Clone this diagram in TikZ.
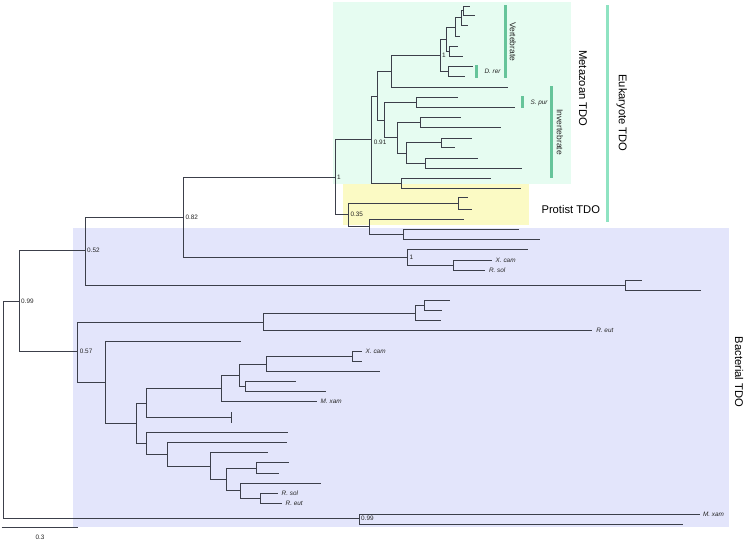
\documentclass[tikz,border=0pt]{standalone}
\usepackage{fontspec}
\setmainfont{Liberation Sans}
\definecolor{treeline}{HTML}{3C3F4A}
\definecolor{metafill}{HTML}{E6FCF1}
\definecolor{protfill}{HTML}{FBFAC4}
\definecolor{bactfill}{HTML}{E3E5FB}
\definecolor{subbar}{HTML}{66C49A}
\definecolor{eukbar}{HTML}{8FE3C2}

\begin{document}
\begin{tikzpicture}[
    x=1pt, y=-1pt,
    every node/.style={font=\fontsize{6.4}{7}\selectfont, text=black!85},
    branch/.style={draw=treeline, line width=0.85pt},
    boot/.style={anchor=west, inner sep=0.8pt, xshift=1.2pt},
    taxon/.style={anchor=west, inner sep=0.8pt, xshift=3pt, font=\fontsize{6.4}{7}\selectfont\itshape},
    subbarline/.style={draw=subbar, line width=3pt},
    groupname/.style={rotate=-90, font=\fontsize{8.5}{9}\selectfont},
    cladename/.style={font=\fontsize{11.2}{12}\selectfont, text=black},
]
\useasboundingbox (0,0) rectangle (747,541);

% === Clade backgrounds ===
\fill[metafill] (333,2) rectangle (571,183.5);
\fill[protfill] (343,183.5) rectangle (529,225);
\fill[bactfill] (73,227.5) rectangle (729,527);

% === Deep splits ===
\coordinate (root) at (3.3,410);
\coordinate (n099) at (19,301);
\coordinate (n052) at (85,250.7);
\coordinate (n082) at (183.3,217.3);
\coordinate (nlong) at (625.7,285.7);
\coordinate (lg1) at (641.7,280.7);
\coordinate (lg2) at (701,290.7);
\coordinate (nb099) at (359,518.5);
\coordinate (mxam2) at (700,514);
\coordinate (lm3) at (682.7,524);

% === Bacterial pair under 0.82 ===
\coordinate (nxr) at (407.3,257.3);
\coordinate (lx1) at (527.7,249.3);
\coordinate (nxr2) at (453.3,265);
\coordinate (xcam1) at (491.7,260);
\coordinate (rsol1) at (485,270);

% === Eukaryote ===
\coordinate (neuk) at (335,177.3);
\coordinate (n035) at (348.3,214.5);
\coordinate (np1) at (458.3,203.3);
\coordinate (lp1) at (468.3,197.7);
\coordinate (lp2) at (471.7,209);
\coordinate (np2) at (369.3,226);
\coordinate (lp3) at (464,219);
\coordinate (np3) at (403.3,234.3);
\coordinate (lp4) at (519.3,229.3);
\coordinate (lp5) at (540,239.3);
\coordinate (n091) at (371.7,139);
\coordinate (nlast) at (401.7,183.3);
\coordinate (lm1) at (490.7,178.3);
\coordinate (lm2) at (520.7,188.3);
\coordinate (nmz) at (377.7,96);

% vertebrates
\coordinate (nvert) at (391.7,71);
\coordinate (lv9) at (508.3,87.3);
\coordinate (n1v) at (440,55);
\coordinate (nvd) at (448.3,71.7);
\coordinate (drer) at (473.3,66.7);
\coordinate (lv8) at (465,76.7);
\coordinate (nv4) at (446,39);
\coordinate (nv5) at (449,51);
\coordinate (lv5) at (458.3,46);
\coordinate (lv6) at (462.7,56);
\coordinate (nv3) at (455,27);
\coordinate (lv4) at (460,36);
\coordinate (nv2) at (461.7,17.5);
\coordinate (lv3) at (468.3,25);
\coordinate (nv1) at (463.3,10.5);
\coordinate (lv1) at (469.7,6);
\coordinate (lv2) at (475,15);

% invertebrates
\coordinate (ninv) at (384.3,120);
\coordinate (ni1) at (416.7,102.3);
\coordinate (li1) at (457.7,97.3);
\coordinate (spur) at (515,107.3);
\coordinate (ni2) at (397.7,137.7);
\coordinate (ni3) at (420.7,122.3);
\coordinate (li3) at (461,117.3);
\coordinate (li4) at (500.7,127.3);
\coordinate (ni4) at (406.7,153);
\coordinate (ni5) at (441,142.8);
\coordinate (li5) at (471.7,138.3);
\coordinate (li6) at (455,147.3);
\coordinate (ni6) at (425.7,163.3);
\coordinate (li7) at (477.7,158.3);
\coordinate (li8) at (521.7,168.3);

% === Bacterial TDO ===
\coordinate (n057) at (77.7,351.7);
\coordinate (nw) at (263.3,322.3);
\coordinate (reut1) at (592.3,330.7);
\coordinate (nw1) at (415.7,313);
\coordinate (lw3) at (440.7,320.7);
\coordinate (nw2) at (424,305);
\coordinate (lw1) at (450,300);
\coordinate (lw2) at (442.3,310);
\coordinate (nx) at (105,382.3);
\coordinate (lx0) at (241,341);
\coordinate (ny) at (136.7,423.3);
\coordinate (nz) at (146.7,403.3);
\coordinate (ztick) at (231,417.3);
\coordinate (nz1) at (221.7,388.3);
\coordinate (mxam1) at (316.7,401.7);
\coordinate (nz2) at (239.3,375);
\coordinate (nz3) at (266.7,364);
\coordinate (lz3) at (380,371);
\coordinate (nz5) at (352.3,356);
\coordinate (xcam2) at (361.7,351);
\coordinate (lz2) at (361.7,361);
\coordinate (nz4) at (245.7,386.7);
\coordinate (lz4) at (295.7,381);
\coordinate (lz5) at (325.7,391.7);
\coordinate (naa) at (146.7,443.3);
\coordinate (la1) at (287.7,432.3);
\coordinate (nbb) at (167.3,454);
\coordinate (lb1) at (286.7,442.3);
\coordinate (ncc) at (210,466.7);
\coordinate (lc1) at (267.7,452.7);
\coordinate (ndd) at (226.7,479.3);
\coordinate (nee) at (256.7,468.3);
\coordinate (le1) at (289,462.7);
\coordinate (le2) at (279,473.3);
\coordinate (nff) at (240.7,490.7);
\coordinate (lf1) at (321,483.3);
\coordinate (ngg) at (260.7,498.3);
\coordinate (rsol2) at (277.7,493.3);
\coordinate (reut2) at (281.7,503.3);

% === Branches ===
\foreach \p/\c in {root/n099, root/nb099, n099/n052, n099/n057,
    n052/n082, n052/nlong, nlong/lg1, nlong/lg2, nb099/mxam2, nb099/lm3,
    n082/neuk, n082/nxr, nxr/lx1, nxr/nxr2, nxr2/xcam1, nxr2/rsol1,
    neuk/n091, neuk/n035, n035/np1, n035/np2, np1/lp1, np1/lp2,
    np2/lp3, np2/np3, np3/lp4, np3/lp5,
    n091/nmz, n091/nlast, nlast/lm1, nlast/lm2, nmz/nvert, nmz/ninv,
    nvert/n1v, nvert/lv9, n1v/nv4, n1v/nvd, nvd/drer, nvd/lv8,
    nv4/nv3, nv4/nv5, nv5/lv5, nv5/lv6, nv3/nv2, nv3/lv4,
    nv2/nv1, nv2/lv3, nv1/lv1, nv1/lv2,
    ninv/ni1, ninv/ni2, ni1/li1, ni1/spur, ni2/ni3, ni2/ni4,
    ni3/li3, ni3/li4, ni4/ni5, ni4/ni6, ni5/li5, ni5/li6, ni6/li7, ni6/li8,
    n057/nw, n057/nx, nw/nw1, nw/reut1, nw1/nw2, nw1/lw3, nw2/lw1, nw2/lw2,
    nx/lx0, nx/ny, ny/nz, ny/naa, nz/nz1, nz/ztick, nz1/nz2, nz1/mxam1,
    nz2/nz3, nz2/nz4, nz3/nz5, nz3/lz3, nz5/xcam2, nz5/lz2, nz4/lz4, nz4/lz5,
    naa/la1, naa/nbb, nbb/lb1, nbb/ncc, ncc/lc1, ncc/ndd,
    ndd/nee, ndd/nff, nee/le1, nee/le2, nff/lf1, nff/ngg,
    ngg/rsol2, ngg/reut2}
  \draw[branch] (\p) |- (\c);
\draw[branch] ([yshift=5.2pt]ztick) -- ([yshift=-5.2pt]ztick);

% === Support values ===
\node[boot] (b099) at (n099) {0.99};
\node[boot] (b052) at (n052) {0.52};
\node[boot] (b082) at (n082) {0.82};
\node[boot] (b057) at (n057) {0.57};
\node[boot] (beuk) at (neuk) {1};
\node[boot] (b091) at ([yshift=-3pt]n091) {0.91};
\node[boot] (b035) at (n035) {0.35};
\node[boot] (bvert) at (n1v) {1};
\node[boot] (bxr) at (nxr) {1};
\node[boot] (bm099) at (nb099) {0.99};

% === Taxon names ===
\node[taxon] (txcam1) at (xcam1) {X. cam};
\node[taxon] (trsol1) at (rsol1) {R. sol};
\node[taxon] (treut1) at (reut1) {R. eut};
\node[taxon] (tmxam1) at (mxam1) {M. xam};
\node[taxon] (txcam2) at (xcam2) {X. cam};
\node[taxon] (trsol2) at (rsol2) {R. sol};
\node[taxon] (treut2) at (reut2) {R. eut};
\node[taxon, xshift=-1pt] (tmxam2) at (mxam2) {M. xam};

% small bars
\draw[subbarline] (476.7,65.3) -- (476.7,77.7);
\node[taxon, xshift=0pt] (tdrer) at (480.5,71.5) {D. rer};
\draw[subbarline] (522.7,96) -- (522.7,108.3);
\node[taxon, xshift=0pt] (tspur) at (526.5,102.5) {S. pur};

% === Group bars ===
\draw[subbarline] (505,5) -- (505,78.3);
\node[groupname] (gvert) at (513,41.7) {Vertebrate};
\draw[subbarline] (551.7,86) -- (551.7,178.3);
\node[groupname] (ginv) at (560,132.2) {Invertebrate};
\draw[draw=eukbar, line width=3pt] (607.7,5) -- (607.7,221.7);

% === Clade names ===
\node[cladename, rotate=-90] (cmeta) at (583,88.3) {Metazoan TDO};
\node[cladename, rotate=-90] (ceuk) at (621.7,113) {Eukaryote TDO};
\node[cladename, anchor=west] (cprot) at (538,209.3) {Protist TDO};
\node[cladename, rotate=-90] (cbact) at (739,372) {Bacterial TDO};

% === Scale ===
\draw[branch] (1.5,527.7) -- (78.3,527.7);
\node (scale) at (40,537) {0.3};

\end{tikzpicture}
\end{document}
